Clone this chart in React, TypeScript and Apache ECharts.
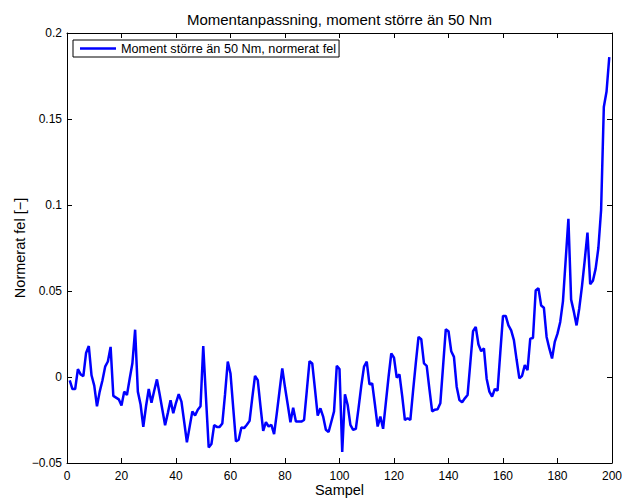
import React, { useEffect, useRef } from "react";
import * as echarts from "echarts";

const titleText = "Momentanpassning, moment större än 50 Nm";
const seriesName = "Moment större än 50 Nm, normerat fel";
const xName = "Sampel";
const yName = "Normerat fel [\u2212]";

const firstSample = 1;
const errorValues: number[] = [
  -0.002, -0.007, -0.007, 0.0046, 0.0015, 0.0005, 0.014, 0.018, 0.001, -0.005,
  -0.017, -0.0085, -0.002, 0.006, 0.009, 0.0175, -0.011, -0.012, -0.013, -0.0166,
  -0.0085, -0.0105, -0.001, 0.008, 0.0275, -0.0085, -0.016, -0.029, -0.017, -0.007,
  -0.015, -0.008, -0.0014, -0.01, -0.019, -0.028, -0.021, -0.0135, -0.021, -0.015,
  -0.01, -0.0143, -0.026, -0.038, -0.029, -0.02, -0.0224, -0.019, -0.017, 0.018,
  -0.012, -0.041, -0.039, -0.028, -0.029, -0.029, -0.027, -0.01, 0.009, 0.002,
  -0.018, -0.0375, -0.0365, -0.0294, -0.0297, -0.0278, -0.0255, -0.012, 0.0007, -0.0018,
  -0.017, -0.0313, -0.0263, -0.0288, -0.0278, -0.0332, -0.021, -0.008, 0.005, -0.006,
  -0.016, -0.0263, -0.0178, -0.0259, -0.0259, -0.0259, -0.025, -0.008, 0.0092, 0.0079,
  -0.007, -0.0224, -0.0182, -0.023, -0.0307, -0.032, -0.026, -0.02, 0.0065, 0.0046,
  -0.0436, -0.01, -0.0163, -0.0278, -0.0307, -0.0301, -0.018, -0.005, 0.006, 0.0089,
  -0.0043, -0.0037, -0.016, -0.0288, -0.023, -0.0301, -0.015, 0.0, 0.0137, 0.0112,
  -0.0004, 0.0015, -0.011, -0.025, -0.024, -0.025, -0.008, 0.008, 0.0233, 0.022,
  0.0079, 0.0065, -0.007, -0.02, -0.019, -0.0188, -0.0153, 0.006, 0.0277, 0.0266,
  0.015, 0.0117, -0.0056, -0.0134, -0.0147, -0.0124, -0.0105, 0.008, 0.0266, 0.0291,
  0.0189, 0.015, 0.0166, -0.001, -0.0085, -0.0114, -0.007, -0.008, 0.014, 0.0355,
  0.0355, 0.03, 0.0271, 0.0214, 0.01, -0.0008, 0.0007, 0.0069, 0.004, 0.0223,
  0.0227, 0.0503, 0.0517, 0.0416, 0.0403, 0.0233, 0.0166, 0.0108, 0.0204, 0.0252,
  0.032, 0.044, 0.068, 0.092, 0.045, 0.038, 0.03, 0.04, 0.053, 0.068,
  0.084, 0.054, 0.056, 0.063, 0.075, 0.097, 0.157, 0.166, 0.186,
];

const xMin = 0;
const xMax = 200;
const xStep = 20;
const yMin = -0.05;
const yMax = 0.2;
const yStep = 0.05;

const FONT = "'Liberation Sans', Arial, Helvetica, sans-serif";

function fmtY(v: number): string {
  const r = Math.round(v * 100) / 100;
  if (r === 0) return "0";
  return r < 0 ? "\u2212" + String(-r) : String(r);
}

export default function App() {
  const ref = useRef<HTMLDivElement>(null);
  useEffect(() => {
    document.body.style.margin = "0";
    if (!ref.current) return;
    const chart = echarts.init(ref.current, undefined, { renderer: "svg" });
    const data = errorValues.map((v, i) => [firstSample + i, v]);
    const tick = { show: true, inside: true, length: 5, lineStyle: { color: "#000", width: 1 } };
    const line = { show: true, onZero: false, lineStyle: { color: "#000", width: 1 } };
    const label = { color: "#000", fontSize: 12, lineHeight: 12, fontFamily: FONT };
    chart.setOption({
      animation: false,
      backgroundColor: "#fff",
      title: {
        text: titleText,
        left: 339.5,
        textAlign: "center",
        top: 12,
        padding: 0,
        textStyle: { fontSize: 15, fontWeight: "normal", color: "#000", fontFamily: FONT },
      },
      legend: {
        left: 73,
        top: 40,
        backgroundColor: "#fff",
        borderColor: "#000",
        borderWidth: 1,
        borderRadius: 0,
        padding: [1, 3, 1, 7],
        itemWidth: 36,
        itemHeight: 2.5,
        itemGap: 0,
        icon: "rect",
        textStyle: { fontSize: 12.7, color: "#000", fontFamily: FONT, lineHeight: 15 },
        data: [{ name: seriesName, icon: "rect" }],
      },
      grid: {
        left: 67,
        right: 10,
        top: 33,
        bottom: 36,
        containLabel: false,
        outerBoundsMode: "none",
      },
      xAxis: [
        {
          type: "value",
          position: "bottom",
          min: xMin,
          max: xMax,
          interval: xStep,
          axisLine: line,
          axisTick: tick,
          splitLine: { show: false },
          axisLabel: { ...label, margin: 7 },
          name: xName,
          nameLocation: "middle",
          nameGap: 19,
          nameMoveOverlap: false,
          nameTextStyle: { color: "#000", fontSize: 14.5, lineHeight: 15, fontFamily: FONT },
        },
        {
          type: "value",
          position: "top",
          min: xMin,
          max: xMax,
          interval: xStep,
          axisLine: line,
          axisTick: tick,
          splitLine: { show: false },
          axisLabel: { show: false },
        },
      ],
      yAxis: [
        {
          type: "value",
          position: "left",
          min: yMin,
          max: yMax,
          interval: yStep,
          axisLine: line,
          axisTick: tick,
          splitLine: { show: false },
          axisLabel: { ...label, margin: 5, formatter: fmtY },
          name: yName,
          nameLocation: "middle",
          nameGap: 40,
          nameMoveOverlap: false,
          nameTextStyle: { color: "#000", fontSize: 14.5, fontFamily: FONT },
        },
        {
          type: "value",
          position: "right",
          min: yMin,
          max: yMax,
          interval: yStep,
          axisLine: line,
          axisTick: tick,
          splitLine: { show: false },
          axisLabel: { show: false },
        },
      ],
      series: [
        {
          name: seriesName,
          type: "line",
          xAxisIndex: 0,
          yAxisIndex: 0,
          data,
          showSymbol: false,
          symbol: "none",
          lineStyle: { color: "#0000ff", width: 2.5 },
          itemStyle: { color: "#0000ff" },
        },
      ],
    });
    return () => chart.dispose();
  }, []);
  return <div ref={ref} style={{ width: 622, height: 499 }} />;
}
